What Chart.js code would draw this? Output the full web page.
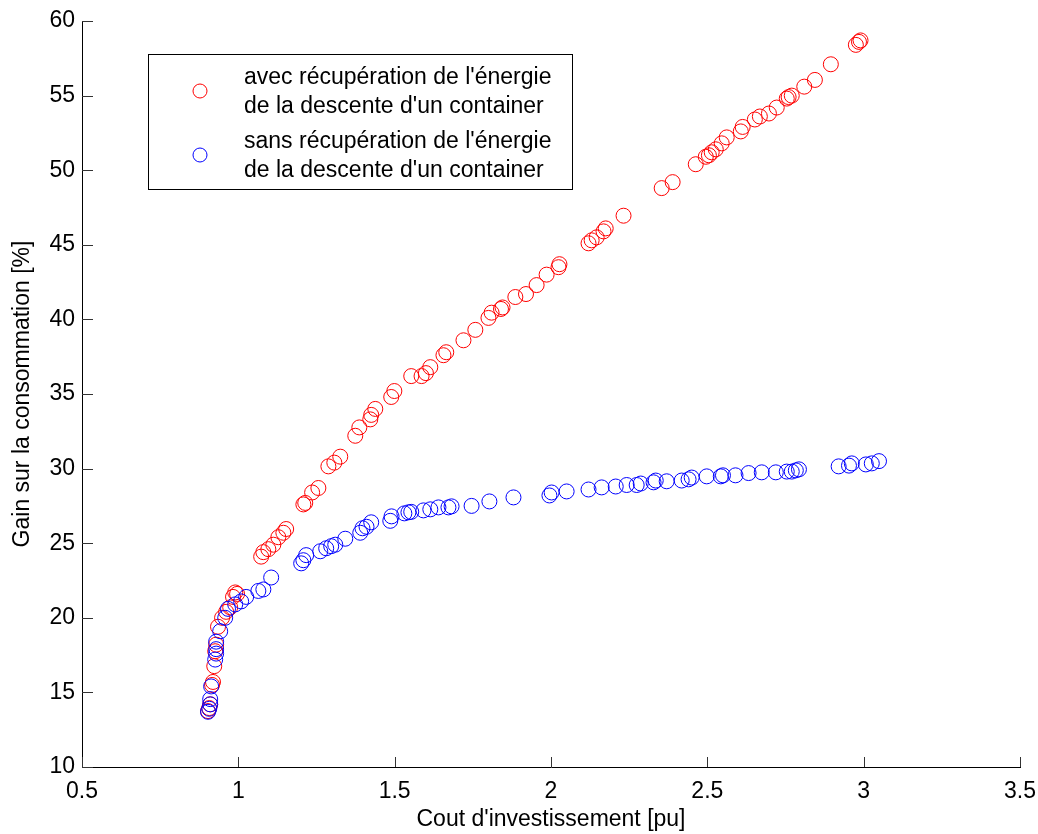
<!DOCTYPE html>
<html>
<head>
<meta charset="utf-8">
<script src="https://cdn.jsdelivr.net/npm/chart.js@4/dist/chart.umd.min.js"></script>
<style>
  html, body { margin: 0; padding: 0; background: #fff; }
  #wrap { width: 1038px; height: 834px; }
</style>
</head>
<body>
<div id="wrap"><canvas id="gainChart" width="1038" height="834"></canvas></div>
<script>
var xTicks = [0.5, 1, 1.5, 2, 2.5, 3, 3.5];
var yTicks = [10, 15, 20, 25, 30, 35, 40, 45, 50, 55, 60];

var avecLabel = ["avec récupération de l'énergie", "de la descente d'un container"];
var sansLabel = ["sans récupération de l'énergie", "de la descente d'un container"];

var avecX = [0.903, 0.907, 0.910, 0.916, 0.919, 0.923, 0.926, 0.929, 0.935, 0.948, 0.961, 0.974, 0.983, 0.990, 0.996,
    1.073, 1.080, 1.096, 1.112, 1.128, 1.144, 1.153, 1.208, 1.214, 1.236, 1.256, 1.288, 1.307, 1.326,
    1.374, 1.387, 1.422, 1.425, 1.438, 1.489, 1.499, 1.553, 1.586, 1.600, 1.614, 1.656, 1.665,
    1.720, 1.758, 1.800, 1.810, 1.840, 1.845, 1.886, 1.920, 1.954, 1.986, 2.024, 2.027,
    2.120, 2.130, 2.146, 2.168, 2.175, 2.232, 2.354, 2.389, 2.463, 2.495, 2.505, 2.514, 2.527,
    2.546, 2.562, 2.607, 2.613, 2.652, 2.668, 2.697, 2.722, 2.754, 2.760, 2.770, 2.810, 2.844,
    2.895, 2.975, 2.985, 2.990];
var avecY = [13.75, 13.95, 14.2, 15.5, 15.7, 16.76, 17.76, 18.2, 19.4, 20.0, 20.4, 20.7, 21.4, 21.7, 21.6,
    24.1, 24.4, 24.6, 24.9, 25.4, 25.7, 25.95, 27.6, 27.7, 28.4, 28.7, 30.15, 30.4, 30.8,
    32.2, 32.76, 33.3, 33.6, 34.0, 34.8, 35.2, 36.2, 36.2, 36.4, 36.8, 37.6, 37.8,
    38.6, 39.3, 40.1, 40.45, 40.7, 40.8, 41.5, 41.7, 42.3, 43.0, 43.5, 43.7,
    45.1, 45.3, 45.5, 45.9, 46.1, 46.95, 48.8, 49.2, 50.4, 50.9, 51.0, 51.2, 51.4,
    51.8, 52.2, 52.6, 52.9, 53.4, 53.6, 53.8, 54.2, 54.8, 54.9, 55.0, 55.6, 56.05,
    57.1, 58.4, 58.6, 58.7];

var sansX = [0.903, 0.907, 0.910, 0.910, 0.913, 0.926, 0.929, 0.929, 0.929, 0.942, 0.958, 0.967, 0.990,
    1.009, 1.025, 1.064, 1.080, 1.105, 1.201, 1.208, 1.217, 1.262, 1.281, 1.297, 1.310, 1.342,
    1.390, 1.397, 1.410, 1.425, 1.486, 1.490, 1.531, 1.544, 1.553, 1.592, 1.614, 1.640, 1.672,
    1.682, 1.746, 1.803, 1.880, 1.995, 2.002, 2.050, 2.120, 2.162, 2.207, 2.242, 2.274, 2.287,
    2.328, 2.335, 2.370, 2.418, 2.440, 2.450, 2.498, 2.543, 2.550, 2.590, 2.632, 2.674, 2.719,
    2.754, 2.770, 2.783, 2.793, 2.920, 2.953, 2.962, 3.007, 3.026, 3.049];
var sansY = [13.7, 13.9, 14.2, 14.55, 15.4, 17.2, 17.6, 17.9, 18.4, 19.1, 20.0, 20.6, 20.9,
    21.1, 21.4, 21.8, 21.9, 22.7, 23.65, 23.86, 24.2, 24.46, 24.66, 24.8, 24.9, 25.3,
    25.7, 26.0, 26.1, 26.4, 26.5, 26.8, 27.0, 27.07, 27.1, 27.2, 27.27, 27.4, 27.4,
    27.47, 27.5, 27.8, 28.07, 28.2, 28.4, 28.47, 28.6, 28.74, 28.8, 28.9, 28.9, 29.0,
    29.08, 29.2, 29.15, 29.2, 29.28, 29.4, 29.48, 29.48, 29.55, 29.55, 29.7, 29.75, 29.75,
    29.8, 29.8, 29.88, 29.95, 30.15, 30.2, 30.35, 30.28, 30.35, 30.5];

function toPoints(xs, ys) {
    return xs.map(function (x, i) { return { x: x, y: ys[i] }; });
}

var FONT = 'Liberation Sans, Arial, sans-serif';

// MATLAB-like short inward ticks on left and bottom axes
var innerTicks = {
    id: 'innerTicks',
    afterDatasetsDraw: function (chart) {
        var c = chart.ctx, a = chart.chartArea;
        var xs = chart.scales.x, ys = chart.scales.y;
        c.save();
        c.strokeStyle = '#333';
        c.lineWidth = 1;
        c.beginPath();
        xTicks.forEach(function (v) {
            var px = Math.round(xs.getPixelForValue(v)) + 0.5;
            c.moveTo(px, a.bottom);
            c.lineTo(px, a.bottom - 10);
        });
        yTicks.forEach(function (v) {
            var py = Math.round(ys.getPixelForValue(v)) + 0.5;
            c.moveTo(a.left, py);
            c.lineTo(a.left + 11, py);
        });
        c.stroke();
        c.restore();
    }
};

// boxed legend with two-line labels
var boxLegend = {
    id: 'boxLegend',
    afterDraw: function (chart) {
        var c = chart.ctx;
        c.save();
        c.strokeStyle = '#000';
        c.lineWidth = 1;
        c.strokeRect(148.5, 54.5, 424, 135);
        c.font = '23px ' + FONT;
        c.fillStyle = '#000';
        c.textBaseline = 'middle';
        var rows = [{ y: 78 }, { y: 142 }];
        chart.data.datasets.forEach(function (ds, i) {
            var top = rows[i].y;
            c.beginPath();
            c.strokeStyle = ds.borderColor;
            c.arc(200, top + 13, 7, 0, Math.PI * 2);
            c.stroke();
            ds.label.forEach(function (line, j) {
                c.fillText(line, 244, top + j * 29);
            });
        });
        c.restore();
    }
};

var ctx = document.getElementById('gainChart').getContext('2d');
var gainChart = new Chart(ctx, {
    type: 'scatter',
    data: {
        datasets: [{
            label: avecLabel,
            data: toPoints(avecX, avecY),
            borderColor: '#ff0000',
            backgroundColor: 'rgba(0,0,0,0)',
            pointRadius: 7.5,
            pointBorderWidth: 1,
            order: 2
        }, {
            label: sansLabel,
            data: toPoints(sansX, sansY),
            borderColor: '#0000ff',
            backgroundColor: 'rgba(0,0,0,0)',
            pointRadius: 7.5,
            pointBorderWidth: 1,
            order: 1
        }]
    },
    options: {
        responsive: false,
        animation: false,
        layout: { autoPadding: false, padding: { left: 0, top: 21, right: 18, bottom: 0 } },
        plugins: {
            legend: { display: false },
            tooltip: { enabled: false }
        },
        scales: {
            x: {
                type: 'linear',
                min: 0.5,
                max: 3.5,
                afterFit: function (s) { s.height = 67; s.paddingLeft = 0; s.paddingRight = 0; },
                afterBuildTicks: function (s) { s.ticks = xTicks.map(function (v) { return { value: v }; }); },
                grid: { display: false, drawTicks: false },
                border: { display: true, color: '#000', width: 1 },
                ticks: {
                    color: '#000',
                    padding: 11,
                    maxRotation: 0,
                    font: { family: FONT, size: 23 },
                    callback: function (v) { return String(v); }
                },
                title: {
                    display: true,
                    text: "Cout d'investissement [pu]",
                    color: '#000',
                    font: { family: FONT, size: 23 },
                    padding: { top: 0, bottom: 1 }
                }
            },
            y: {
                type: 'linear',
                min: 10,
                max: 60,
                afterFit: function (s) { s.width = 82; s.paddingTop = 0; s.paddingBottom = 0; },
                afterBuildTicks: function (s) { s.ticks = yTicks.map(function (v) { return { value: v }; }); },
                grid: { display: false, drawTicks: false },
                border: { display: true, color: '#000', width: 1 },
                ticks: {
                    color: '#000',
                    padding: 7,
                    font: { family: FONT, size: 23 },
                    callback: function (v) { return String(v); }
                },
                title: {
                    display: true,
                    text: 'Gain sur la consommation [%]',
                    color: '#000',
                    font: { family: FONT, size: 23 },
                    padding: { top: 9, bottom: 0 }
                }
            }
        }
    },
    plugins: [innerTicks, boxLegend]
});
</script>
</body>
</html>
